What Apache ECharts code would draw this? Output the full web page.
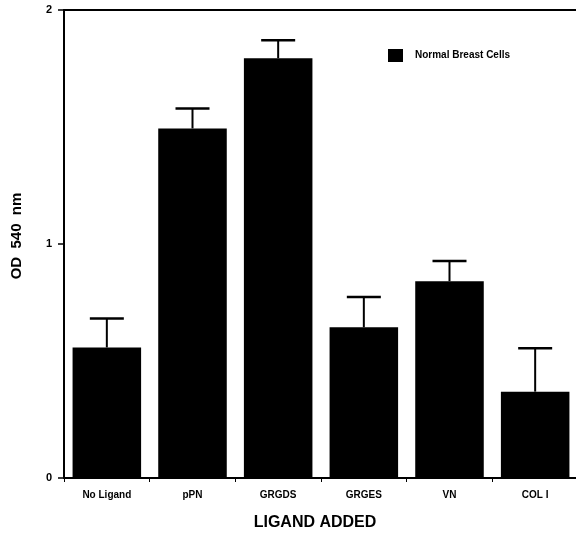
<!DOCTYPE html>
<html>
<head>
<meta charset="utf-8">
<script src="https://cdn.jsdelivr.net/npm/echarts@6/dist/echarts.min.js"></script>
<style>html,body{margin:0;padding:0;background:#fff}#c{width:576px;height:533px}</style>
</head>
<body>
<div id="c"></div>
<script>
const categories = ['No Ligand', 'pPN', 'GRGDS', 'GRGES', 'VN', 'COL I'];
const meanValues = [0.558, 1.494, 1.794, 0.644, 0.841, 0.369];
const errorTops = [0.682, 1.579, 1.871, 0.773, 0.927, 0.554];
const yTicks = [0, 1, 2];
const seriesName = 'Normal Breast Cells';

const FONT = '"Liberation Sans", Arial, sans-serif';
const chart = echarts.init(document.getElementById('c'), null, {renderer: 'canvas'});
chart.setOption({
  animation: false,
  backgroundColor: '#fff',
  grid: {left: 64, right: -2, top: 10, bottom: 55, show: false, containLabel: false, outerBoundsMode: 'none'},
  legend: {
    left: 383, top: 44,
    itemWidth: 15, itemHeight: 13,
    icon: 'rect',
    data: [seriesName],
    textStyle: {fontFamily: FONT, fontSize: 10, fontWeight: 'bold', color: '#000', padding: [0, 0, 0, 7]}
  },
  xAxis: [{
    type: 'category',
    data: categories,
    axisLine: {lineStyle: {color: '#000', width: 2}},
    axisTick: {show: true, length: 4, lineStyle: {color: '#000', width: 1}},
    axisLabel: {fontFamily: FONT, fontSize: 10, fontWeight: 'bold', color: '#000', margin: 12},
    name: 'LIGAND ADDED',
    nameLocation: 'middle',
    nameGap: 37,
    nameTextStyle: {fontFamily: FONT, fontSize: 16, fontWeight: 'bold', color: '#000', padding: [0, 12, 0, 0]}
  }, {
    type: 'category',
    position: 'top',
    data: categories,
    axisLine: {show: true, lineStyle: {color: '#000', width: 2}},
    axisTick: {show: false},
    axisLabel: {show: false}
  }],
  yAxis: {
    type: 'value',
    min: 0, max: 2, interval: 1,
    axisLine: {show: true, lineStyle: {color: '#000', width: 2}},
    axisTick: {show: true, length: 6, lineStyle: {color: '#000', width: 1.5}},
    splitLine: {show: false},
    axisLabel: {
      fontFamily: FONT, fontSize: 11, fontWeight: 'bold', color: '#000', margin: 12,
      formatter: v => yTicks.includes(v) ? String(v) : ''
    },
    name: 'OD  540  nm',
    nameLocation: 'middle',
    nameGap: 40,
    nameTextStyle: {fontFamily: FONT, fontSize: 15, fontWeight: 'bold', color: '#000', padding: [0, 0, 0, 16]}
  },
  series: [{
    name: seriesName,
    type: 'bar',
    data: meanValues,
    barCategoryGap: '20%',
    itemStyle: {color: '#000'},
    z: 2
  }, {
    type: 'custom',
    name: 'err',
    data: categories.map((c, i) => [i, meanValues[i], errorTops[i]]),
    z: 3,
    renderItem: function (params, api) {
      const x = api.coord([api.value(0), api.value(1)])[0];
      const yLow = api.coord([api.value(0), api.value(1)])[1];
      const yHigh = api.coord([api.value(0), api.value(2)])[1];
      const half = 17;
      return {
        type: 'group',
        children: [
          {type: 'line', shape: {x1: x, y1: yLow, x2: x, y2: yHigh}, style: {stroke: '#000', lineWidth: 2}},
          {type: 'line', shape: {x1: x - half, y1: yHigh, x2: x + half, y2: yHigh}, style: {stroke: '#000', lineWidth: 2.5}}
        ]
      };
    }
  }]
});
</script>
</body>
</html>
